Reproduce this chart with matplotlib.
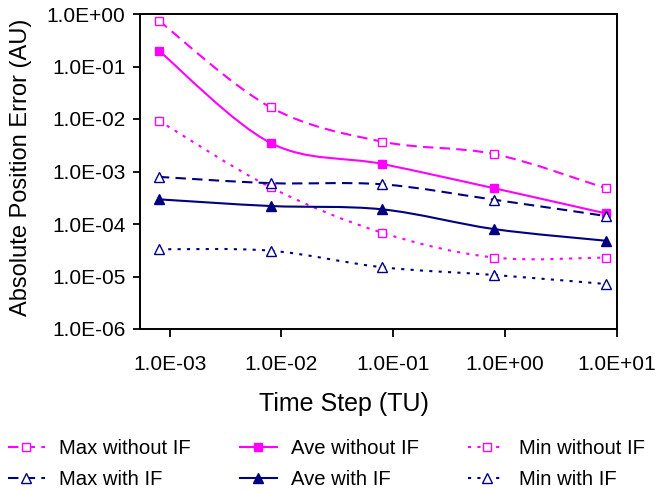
import numpy as np
import matplotlib
matplotlib.use("Agg")
import matplotlib.pyplot as plt
from matplotlib.path import Path
from matplotlib.patches import PathPatch
from matplotlib.lines import Line2D

plt.rcParams['font.family'] = ['Liberation Sans', 'DejaVu Sans']

# time step (TU)
time_step = [8e-4, 8e-3, 8e-2, 8e-1, 8.0]

# absolute position error (AU)
max_without_if = [0.745, 0.0167, 0.0037, 0.00215, 0.00048]
ave_without_if = [0.20, 0.0035, 0.00139, 0.00048, 0.000159]
min_without_if = [0.0093, 0.0005, 6.8e-5, 2.3e-5, 2.3e-5]
max_with_if = [7.9e-4, 6.0e-4, 5.7e-4, 2.9e-4, 1.42e-4]
ave_with_if = [2.95e-4, 2.2e-4, 1.9e-4, 8.0e-5, 4.8e-5]
min_with_if = [3.3e-5, 3.1e-5, 1.5e-5, 1.07e-5, 7.2e-6]

labels = ['Max without IF', 'Ave without IF', 'Min without IF',
          'Max with IF', 'Ave with IF', 'Min with IF']

x_ticks = [1e-3, 1e-2, 1e-1, 1e0, 1e1]
y_ticks = [1e-6, 1e-5, 1e-4, 1e-3, 1e-2, 1e-1, 1e0]

pink = '#FF00FF'
navy = '#000080'
dash = (0, (5, 3))
dot = (0, (1.5, 3))


def smooth_path(xs, ys):
    # excel style smoothed line: bezier segments built in log space
    pts = np.column_stack([np.log10(xs), np.log10(ys)])
    n = len(pts)
    verts = [pts[0]]
    codes = [Path.MOVETO]
    for i in range(n - 1):
        p0 = pts[max(i - 1, 0)]
        p1 = pts[i]
        p2 = pts[i + 1]
        p3 = pts[min(i + 2, n - 1)]
        c1 = p1 + (p2 - p0) / 6
        c2 = p2 - (p3 - p1) / 6
        verts += [c1, c2, p2]
        codes += [Path.CURVE4] * 3
    return Path(10 ** np.array(verts), codes)


series = [
    (max_without_if, pink, dash, 's', 'white', 5.5),
    (ave_without_if, pink, '-', 's', pink, 6),
    (min_without_if, pink, dot, 's', 'white', 5.5),
    (max_with_if, navy, dash, '^', 'white', 7),
    (ave_with_if, navy, '-', '^', navy, 7),
    (min_with_if, navy, dot, '^', 'white', 7),
]

fig = plt.figure(figsize=(6.56, 4.91), dpi=100)
ax = fig.add_subplot(111)
fig.subplots_adjust(left=139.5 / 656, right=616.7 / 656,
                    top=1 - 14 / 491, bottom=1 - 329 / 491)

ax.set_xscale('log')
ax.set_yscale('log')

handles = []
for (vals, col, ls, mk, fc, ms), lab in zip(series, labels):
    patch = PathPatch(smooth_path(time_step, vals), fill=False,
                      edgecolor=col, lw=1.5, linestyle=ls, capstyle='butt')
    ax.add_patch(patch)
    ax.plot(time_step, vals, linestyle='none', marker=mk, ms=ms,
            mfc=fc, mec=col, mew=1.0, zorder=3)
    handles.append(Line2D([], [], color=col, lw=1.5, linestyle=ls,
                          marker=mk, ms=ms, mfc=fc, mec=col, mew=1.0,
                          label=lab))

ax.set_xlim(10 ** -3.27, 10)
ax.set_ylim(1e-6, 1)

ax.xaxis.set_major_locator(matplotlib.ticker.FixedLocator(x_ticks))
ax.yaxis.set_major_locator(matplotlib.ticker.FixedLocator(y_ticks))
ax.xaxis.set_minor_locator(matplotlib.ticker.NullLocator())
ax.yaxis.set_minor_locator(matplotlib.ticker.NullLocator())
ax.set_xticklabels([f'{v:.1E}' for v in x_ticks])
ax.set_yticklabels([f'{v:.1E}' for v in y_ticks])

ax.tick_params(axis='x', length=6, width=1.3, pad=13, labelsize=15)
ax.tick_params(axis='y', length=5, width=1.3, pad=5, labelsize=15)

for s in ax.spines.values():
    s.set_linewidth(1.4)
    s.set_color('black')

ax.set_xlabel('Time Step (TU)', fontsize=18, va='top')
ax.xaxis.set_label_coords((344 - 139.5) / 477, (329 - 392) / 315)
ax.set_ylabel('Absolute Position Error (AU)', fontsize=17)
ax.yaxis.set_label_coords((32 - 139.5) / 477, (329 - 167) / 315)

# legend fills column by column, so reorder to read across rows
order = [0, 3, 1, 4, 2, 5]
fig.legend([handles[i] for i in order], [labels[i] for i in order],
           ncol=3, loc='upper left', bbox_to_anchor=(8 / 656, 1 - 439 / 491),
           frameon=False, fontsize=14.6, handlelength=1.8, handletextpad=0.7,
           columnspacing=2.45, labelspacing=0.6, borderpad=0, borderaxespad=0)

fig.savefig('out.png', dpi=100)
